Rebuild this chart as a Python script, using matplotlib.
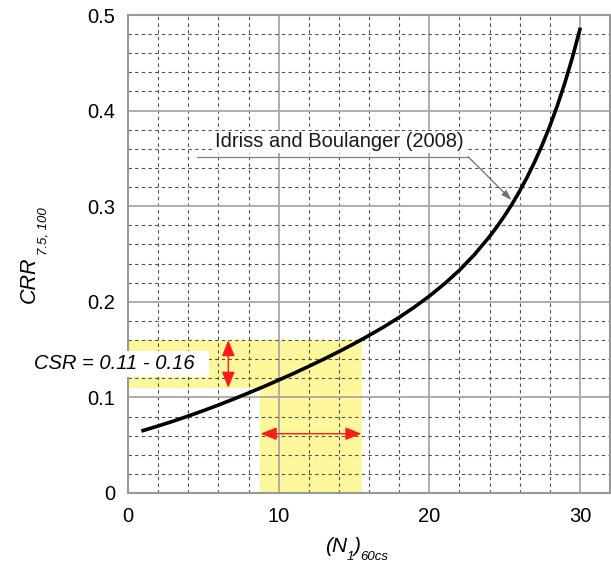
import matplotlib
matplotlib.use("Agg")
import matplotlib.pyplot as plt
from matplotlib.ticker import MultipleLocator
from matplotlib.patches import Rectangle

plt.rcParams['font.family'] = ['Liberation Sans', 'DejaVu Sans']

# CRR curve, Idriss and Boulanger (2008)
n160cs = [1, 2, 3, 4, 5, 6, 7, 8, 9, 10, 11, 12, 13, 14, 15,
          16, 17, 18, 19, 20, 21, 22, 23, 24, 24.5, 25, 25.5, 26, 26.5,
          27, 27.5, 28, 28.5, 29, 29.5, 30]
crr = [0.0653, 0.0701, 0.0751, 0.0805, 0.0861, 0.0920, 0.0982, 0.1046,
       0.1112, 0.1181, 0.1251, 0.1325, 0.1400, 0.1479, 0.1561, 0.1648,
       0.1739, 0.1837, 0.1943, 0.2059, 0.2187, 0.2330, 0.2494, 0.2682,
       0.2787, 0.2900, 0.3023, 0.3158, 0.3304, 0.3465, 0.3642, 0.3836,
       0.4051, 0.4289, 0.4554, 0.4849]

csr_range = [0.11, 0.16]
n_range = [8.75, 15.55]

xticks = [0, 10, 20, 30]
yticks = [0, 0.1, 0.2, 0.3, 0.4, 0.5]
ytick_labels = ['0', '0.1', '0.2', '0.3', '0.4', '0.5']

curve_label = "Idriss and Boulanger (2008)"
csr_label = "CSR = 0.11 - 0.16"

W, H = 611, 564
fig = plt.figure(figsize=(W / 100, H / 100), dpi=100)
ax = fig.add_axes([0.2095, 0.1259, 0.7889, 0.8475])

ax.set_xlim(0, 32)
ax.set_ylim(0, 0.5)

# grid
ax.set_xticks(xticks)
ax.set_yticks(yticks)
ax.set_yticklabels(ytick_labels)
ax.xaxis.set_minor_locator(MultipleLocator(2))
ax.yaxis.set_minor_locator(MultipleLocator(0.02))
ax.set_axisbelow(True)
ax.grid(which='major', color='#a8a8a8', lw=1.3, ls='-')
ax.grid(which='minor', color='#505050', lw=0.8, ls=(0, (3, 3)))
ax.tick_params(which='both', length=0, labelsize=14.5)
ax.tick_params(axis='x', pad=10)
ax.tick_params(axis='y', pad=9)
for s in ax.spines.values():
    s.set_color('#999999')
    s.set_linewidth(1.5)

# yellow zones
yel = '#fff79c'
ax.fill_between([0, n_range[1]], csr_range[0], csr_range[1], color=yel, lw=0, zorder=0.2)
ax.fill_between([n_range[0], n_range[1]], 0, csr_range[1], color=yel, lw=0, zorder=0.2)

ax.plot(n160cs, crr, color='black', lw=2.6, zorder=2, solid_joinstyle='round')

# red arrows
arr = dict(arrowstyle='<|-|>,head_length=0.7,head_width=0.28', color='#ff1a1a',
           lw=1.0, shrinkA=0, shrinkB=0, mutation_scale=14)
ax.annotate('', xy=(6.66, csr_range[0]), xytext=(6.66, csr_range[1]), arrowprops=arr, zorder=3)
ax.annotate('', xy=(n_range[0] + 0.05, 0.062), xytext=(n_range[1] - 0.05, 0.062),
            arrowprops=arr, zorder=3)

# CSR label box
ax.add_patch(Rectangle((-7, 0.1215), 12.37, 0.0272, facecolor='white', edgecolor='none',
                       clip_on=False, zorder=3))
ax.text(4.43, 0.1294, csr_label, style='italic', fontsize=14.5, ha='right', va='baseline',
        clip_on=False, zorder=4)

# curve callout
ax.plot([4.57, 22.58], [0.3518, 0.3518], color='#808080', lw=0.9, zorder=2)
ax.annotate('', xy=(25.46, 0.3065), xytext=(22.58, 0.3518),
            arrowprops=dict(arrowstyle='-|>,head_length=0.6,head_width=0.2',
                            color='#707070', lw=0.9, shrinkA=0, shrinkB=0,
                            mutation_scale=10), zorder=2)
ax.text(5.77, 0.3615, curve_label, fontsize=14.5, ha='left', va='baseline', color='#1a1a1a',
        zorder=3, bbox=dict(facecolor='white', edgecolor='none', pad=1.0))

# axis labels with low-set subscripts
rot = dict(rotation=90, rotation_mode='anchor', ha='left', va='baseline', style='italic')
fig.text(35 / W, 1 - 303 / H, 'CRR', fontsize=15.5, **rot)
fig.text(46.5 / W, 1 - 255 / H, '7.5, 100', fontsize=9.5, **rot)

base = dict(ha='left', va='baseline', style='italic')
fig.text(325 / W, 1 - 552 / H, '(N', fontsize=15, **base)
fig.text(347 / W, 1 - 560 / H, '1', fontsize=9.5, **base)
fig.text(353 / W, 1 - 552 / H, ')', fontsize=15, **base)
fig.text(360 / W, 1 - 560 / H, '60cs', fontsize=9.5, **base)

fig.savefig('out.png', dpi=100)
